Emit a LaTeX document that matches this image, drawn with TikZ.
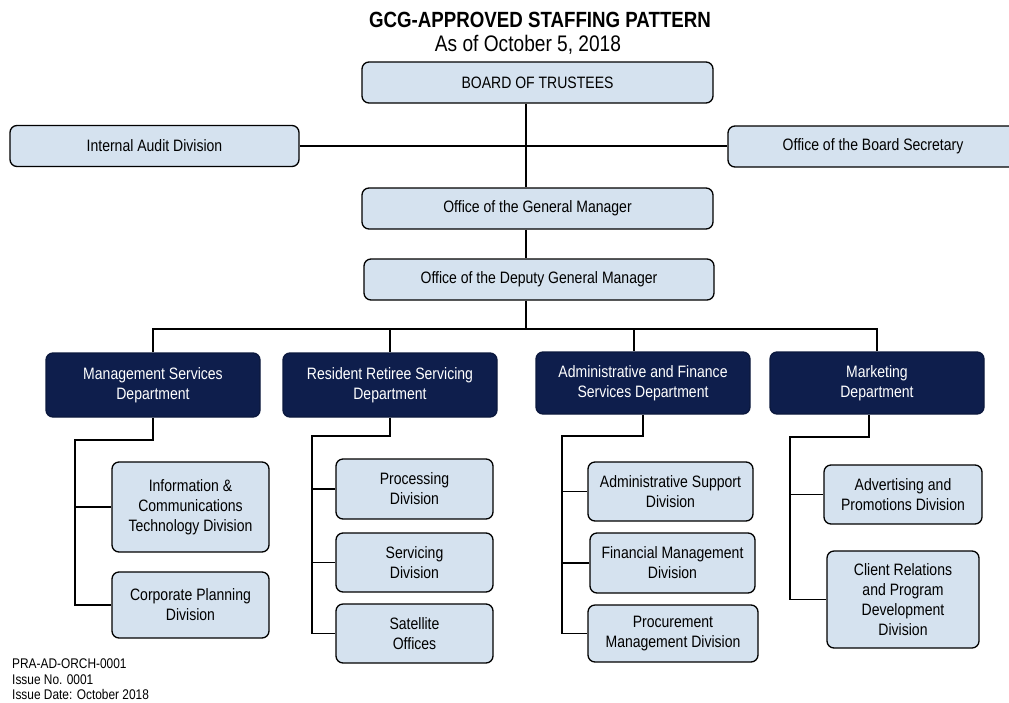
\documentclass[tikz,border=0pt]{standalone}
\usepackage{fontspec}
\setmainfont{Liberation Sans}[FakeStretch=0.85]

\definecolor{divblue}{RGB}{213,226,239}
\definecolor{deptnavy}{RGB}{14,30,76}

\begin{document}
\begin{tikzpicture}[x=1pt,y=-1pt,
    box/.style={draw=black, line width=1.3pt, rounded corners=7pt, fill=divblue,
                align=center, inner sep=0pt, font=\fontsize{16.5}{20}\selectfont},
    dept/.style={box, fill=deptnavy, text=white, draw=deptnavy!80!black},
    link/.style={line width=1.7pt}]

    \useasboundingbox (0,0) rectangle (1009,702);
    \clip (0,0) rectangle (1009,702);

    % heading
    \node[font=\fontsize{22}{24}\bfseries] (title) at (540,20) {GCG-APPROVED STAFFING PATTERN};
    \node[font=\fontsize{22.5}{24}\selectfont] (date) at (528,45) {As of October 5, 2018};

    % top of the chart
    \node[box, minimum width=351, minimum height=41] (bot) at (537.5,82.5) {BOARD OF TRUSTEES};
    \node[box, minimum width=289, minimum height=41] (iad) at (154.5,146) {Internal Audit Division};
    \node[box, minimum width=290, minimum height=41] (obs) at (873,146.5) {Office of the Board Secretary};
    \node[box, minimum width=351, minimum height=41] (ogm) at (537.5,208.5) {Office of the General Manager};
    \node[box, minimum width=350, minimum height=41] (dgm) at (539,279.5) {Office of the Deputy General Manager};

    \coordinate (spine) at (526,0);
    \coordinate (bus) at (0,329);
    \draw[link] (bot.south -| spine) -- (ogm.north -| spine);
    \draw[link] (iad.east) -- (iad.east -| obs.west);
    \draw[link] (ogm.south -| spine) -- (dgm.north -| spine);
    \draw[link] (dgm.south -| spine) -- (bus -| spine);

    % departments
    \node[dept, minimum width=214, minimum height=64] (msd) at (153,385) {Management Services\\Department};
    \node[dept, minimum width=214, minimum height=64] (rrsd) at (390,385) {Resident Retiree Servicing\\Department};
    \node[dept, minimum width=214, minimum height=62] (afsd) at (643,383) {Administrative and Finance\\Services Department};
    \node[dept, minimum width=214, minimum height=62] (mkt) at (877,383) {Marketing\\Department};

    \draw[link] (msd.north) |- (bus -| mkt.north) -- (mkt.north);
    \draw[link] (bus -| rrsd.north) -- (rrsd.north);
    \draw[link] (bus -| 634,0) -- (afsd.north -| 634,0);

    % divisions
    \node[box, minimum width=157, minimum height=90] (ict) at (190.5,507) {Information \&\\Communications\\Technology Division};
    \node[box, minimum width=157, minimum height=66] (cpd) at (190.5,605) {Corporate Planning\\Division};

    \node[box, minimum width=157, minimum height=60] (prd) at (414.5,489) {Processing\\Division};
    \node[box, minimum width=157, minimum height=59] (svd) at (414.5,562.5) {Servicing\\Division};
    \node[box, minimum width=157, minimum height=59] (sat) at (414.5,633.5) {Satellite\\Offices};

    \node[box, minimum width=165, minimum height=59] (asd) at (670.5,491.5) {Administrative Support\\Division};
    \node[box, minimum width=165, minimum height=60] (fmd) at (672.5,563) {Financial Management\\Division};
    \node[box, minimum width=170, minimum height=57] (pmd) at (673,633.5) {Procurement\\Management Division};

    \node[box, minimum width=158, minimum height=59] (apd) at (903,494.5) {Advertising and\\Promotions Division};
    \node[box, minimum width=152, minimum height=97] (crd) at (903,599.5) {Client Relations\\and Program\\Development\\Division};

    % rails down the left of each group
    \coordinate (msdrail) at (75,440);
    \coordinate (rrsdrail) at (312,436);
    \coordinate (afsdrail) at (562,436);
    \coordinate (mktrail) at (790,437);

    \draw[link] (msd.south) |- (msdrail) |- (cpd.west);
    \draw[link] (msdrail |- ict.west) -- (ict.west);

    \draw[link] (rrsd.south) |- (rrsdrail) |- (sat.west);
    \foreach \d in {prd,svd}
        \draw[link] (rrsdrail |- \d.west) -- (\d.west);

    \draw[link] (afsd.south) |- (afsdrail) |- (pmd.west);
    \foreach \d in {asd,fmd}
        \draw[link] (afsdrail |- \d.west) -- (\d.west);

    \draw[link] (mkt.south -| 869,0) |- (mktrail) |- (crd.west);
    \draw[link] (mktrail |- apd.west) -- (apd.west);

    % document footer
    \node[anchor=north west, align=left, inner sep=0pt, font=\fontsize{14}{15.5}\selectfont] (doc) at (12,659)
        {PRA-AD-ORCH-0001\\Issue No. 0001\\Issue Date: October 2018};
\end{tikzpicture}
\end{document}
